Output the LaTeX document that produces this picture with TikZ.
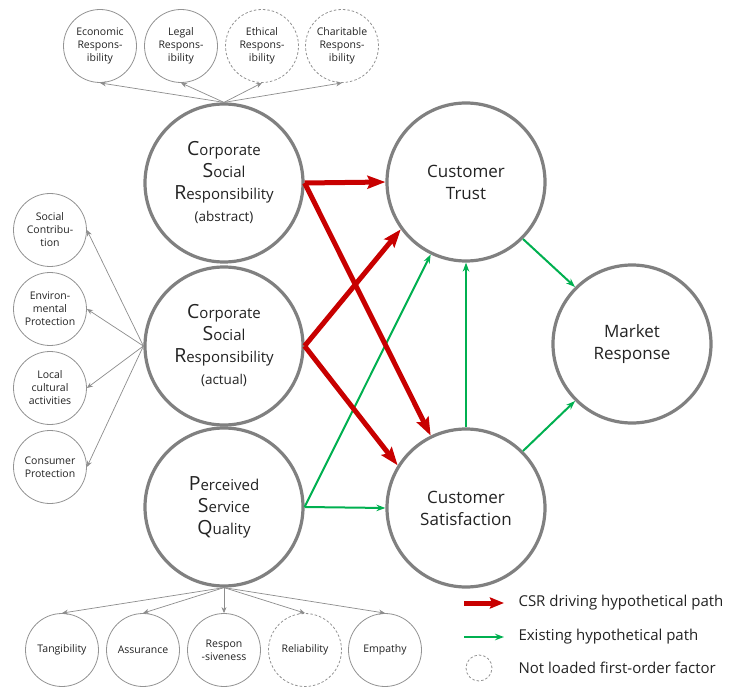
\documentclass[tikz,border=0pt]{standalone}
\usepackage{fontspec}
\setmainfont{Open Sans}
\usetikzlibrary{arrows.meta,positioning}
\definecolor{ringgray}{RGB}{128,128,128}
\definecolor{csrred}{RGB}{200,0,0}
\definecolor{pathgreen}{RGB}{0,176,80}
\definecolor{inkgray}{RGB}{35,35,35}
% enlarged first letter of a word
\newcommand{\firstl}[1]{{\fontsize{19.5}{22}\selectfont #1}}

\begin{document}
\begin{tikzpicture}[x=1pt, y=-1pt,
	latent/.style   = {circle, draw=ringgray, line width=3.2pt, minimum size=158pt, inner sep=0pt, align=center, text=inkgray, font=\fontsize{17}{22}\selectfont},
	csrbox/.style   = {latent, font=\fontsize{15}{22}\selectfont},
	factor/.style   = {circle, draw=ringgray!85, line width=0.8pt, minimum size=73pt, inner sep=0pt, align=center, text=inkgray, font=\fontsize{10.5}{13}\selectfont},
	unloaded/.style = {factor, dash pattern=on 2.5pt off 2pt},
	load/.style     = {-{Stealth[length=6pt,width=5pt]}, draw=ringgray!90, line width=0.7pt},
	csrpath/.style  = {-{Stealth[length=18pt,width=13pt,inset=3pt]}, draw=csrred, line width=5pt},
	oldpath/.style  = {-{Stealth[length=9pt,width=6.5pt]}, draw=pathgreen, line width=2pt},
	legtext/.style  = {anchor=west, text=inkgray, font=\fontsize{15}{18}\selectfont}]

	\useasboundingbox[fill=white] (0,0) rectangle (734,687);

	% second-order constructs
	\node[csrbox] (csrA) at (224,183) {\firstl{C}orporate\\\firstl{S}ocial\\\firstl{R}esponsibility\\{\fontsize{13.5}{18}\selectfont (abstract)}};
	\node[csrbox] (csrB) at (224,346) {\firstl{C}orporate\\\firstl{S}ocial\\\firstl{R}esponsibility\\{\fontsize{13.5}{18}\selectfont (actual)}};
	\node[csrbox] (psq)  at (224,507) {\firstl{P}erceived\\\firstl{S}ervice\\\firstl{Q}uality};
	\node[latent] (trust)  at (466,182) {Customer\\Trust};
	\node[latent] (sat)    at (466,508) {Customer\\Satisfaction};
	\node[latent] (market) at (632,344) {Market\\Response};

	% first-order factors of CSR (abstract)
	\node[factor]   (econ)   at (100,46) {Economic\\Respons-\\ibility};
	\node[factor]   (legal)  at (181,46) {Legal\\Respons-\\ibility};
	\node[unloaded] (ethic)  at (262,46) {Ethical\\Respons-\\ibility};
	\node[unloaded] (charit) at (342,46) {Charitable\\Respons-\\ibility};

	% first-order factors of CSR (actual)
	\node[factor] (social)   at (50,230) {Social\\Contribu-\\tion};
	\node[factor] (environ)  at (50,309) {Environ-\\mental\\Protection};
	\node[factor] (local)    at (50,388) {Local\\cultural\\activities};
	\node[factor] (consumer) at (50,467) {Consumer\\Protection};

	% first-order factors of service quality
	\node[factor]   (tang)    at (62,650)  {Tangibility};
	\node[factor]   (assur)   at (143,650) {Assurance};
	\node[factor]   (respon)  at (224,650) {Respon\\-siveness};
	\node[unloaded] (reliab)  at (305,650) {Reliability};
	\node[factor]   (empathy) at (385,650) {Empathy};

	% loadings
	\foreach \f in {econ,legal,ethic,charit}
	\draw[load] (csrA.north) -- (\f.south);

	\foreach \f in {social,environ,local,consumer}
	\draw[load] (csrB.west) -- (\f.east);

	\foreach \f in {tang,assur,respon,reliab,empathy}
	\draw[load] (psq.south) -- (\f.north);

	% structural paths
	\draw[oldpath] (psq.east) -- (sat.west);
	\draw[oldpath] (psq.east) -- (trust.244);
	\draw[oldpath] (sat.north) -- (trust.south);
	\draw[oldpath] (trust.-45) -- (market.135);
	\draw[oldpath] (sat.45) -- (market.225);

	\draw[csrpath] (csrA.east) -- (trust.west);
	\draw[csrpath] (csrA.east) -- (sat.116);
	\draw[csrpath] (csrB.east) -- (trust.216);
	\draw[csrpath] (csrB.east) -- (sat.148);

	% legend
	\coordinate (redA) at (464,603);
	\coordinate (redB) at (504,603);
	\coordinate (grnA) at (464,637);
	\coordinate (grnB) at (504,637);
	\draw[csrpath, -{Stealth[length=14pt,width=11pt,inset=2pt]}] (redA) -- (redB);
	\draw[oldpath] (grnA) -- (grnB);
	\node[unloaded, minimum size=26pt] (legcirc) at (479,668) {};
	\node[legtext] (legred)  at (515,603) {CSR driving hypothetical path};
	\node[legtext] (leggrn)  at (515,637) {Existing hypothetical path};
	\node[legtext] (legdash) at (515,668) {Not loaded first-order factor};

\end{tikzpicture}
\end{document}
